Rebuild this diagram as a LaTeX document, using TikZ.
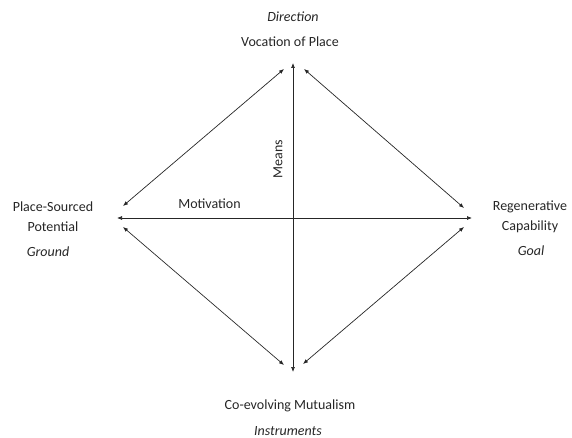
\documentclass[tikz,border=0pt]{standalone}
\usepackage{fontspec}
\setmainfont{Carlito}
\usetikzlibrary{arrows.meta}
\begin{document}
\begin{tikzpicture}[x=1pt,y=-1pt,
  lbl/.style={font=\fontsize{14}{16}\selectfont, inner sep=0pt, anchor=center, text=black!85},
  it/.style={lbl, font=\fontsize{14}{16}\selectfont\itshape},
  arr/.style={draw=black!85, line width=0.7pt, {Latex[length=5pt,width=4pt]}-{Latex[length=5pt,width=4pt]}}]
\useasboundingbox (0,0) rectangle (572,438);
% text labels
\node[it]  (dir)  at (293,17) {Direction};
\node[lbl] (voc)  at (290,42) {Vocation of Place};
\node[lbl] (ps)   at (53,207) {Place-Sourced};
\node[lbl] (pot)  at (53,227) {Potential};
\node[it]  (grd)  at (48,252) {Ground};
\node[lbl] (reg)  at (530,207) {Regenerative};
\node[lbl] (cap)  at (530,227) {Capability};
\node[it]  (goal) at (531,251) {Goal};
\node[lbl] (mot)  at (209.5,204) {Motivation};
\node[lbl, rotate=90] (means) at (278,159) {Means};
\node[lbl] (coe)  at (290,406) {Co-evolving Mutualism};
\node[it]  (ins)  at (288,431) {Instruments};
% arrow end points
\coordinate (vt) at (293,63);
\coordinate (vb) at (293,372);
\coordinate (hl) at (117,218);
\coordinate (hr) at (472,218);
\coordinate (ul1) at (123,206);
\coordinate (ul2) at (284,69);
\coordinate (ur1) at (304,69);
\coordinate (ur2) at (464,208);
\coordinate (ll1) at (123,227);
\coordinate (ll2) at (284,365);
\coordinate (lr1) at (303,364);
\coordinate (lr2) at (464,227);
% arrows
\draw[arr] (vt) -- (vb);
\draw[arr] (hl) -- (hr);
\draw[arr] (ul1) -- (ul2);
\draw[arr] (ur1) -- (ur2);
\draw[arr] (ll1) -- (ll2);
\draw[arr] (lr1) -- (lr2);
\end{tikzpicture}
\end{document}
